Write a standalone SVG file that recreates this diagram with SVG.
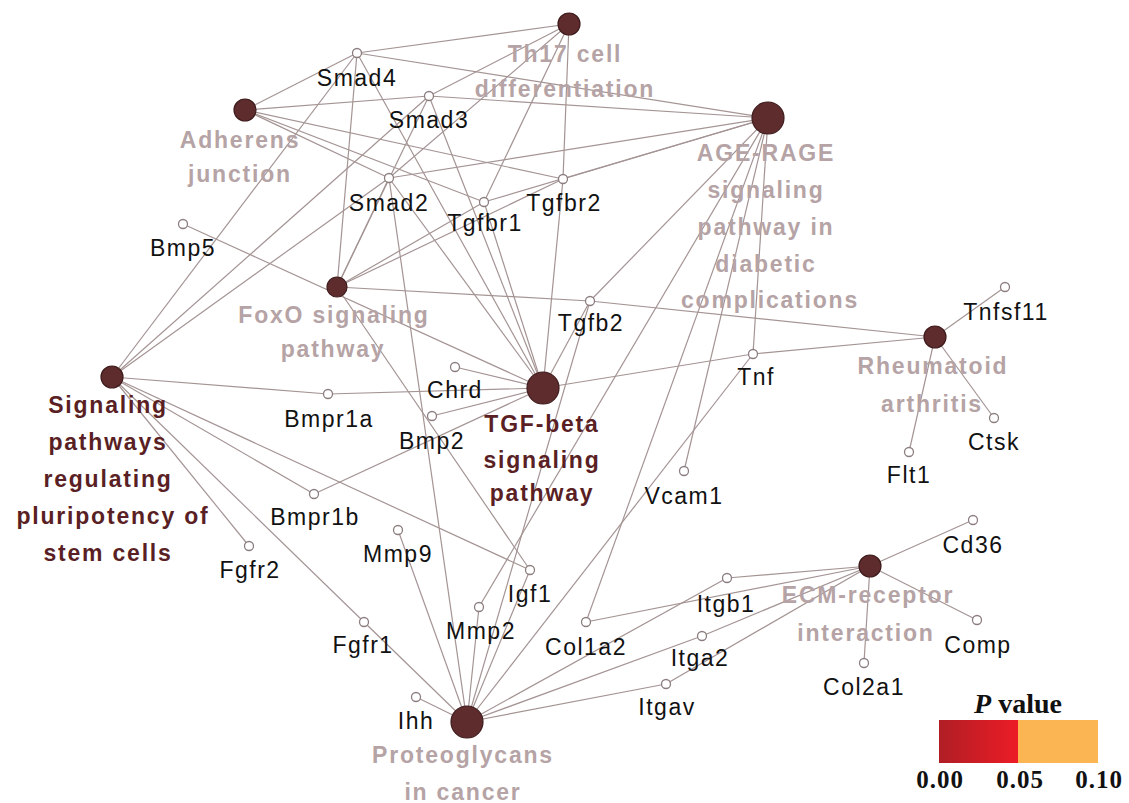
<svg xmlns="http://www.w3.org/2000/svg" width="1129" height="803" viewBox="0 0 1129 803">
<defs>
<style>
.e{stroke:#a59494;stroke-width:1.2;fill:none}
.p{fill:#5f2c2d;stroke:#3e1b1c;stroke-width:1.2}
.g{fill:#ffffff;stroke:#8c7e7e;stroke-width:1.3}
.gl{font-family:"Liberation Sans",Arial,sans-serif;font-size:23px;letter-spacing:1.5px;fill:#111;text-anchor:middle}
.pl{font-family:"Liberation Sans",Arial,sans-serif;font-size:23px;font-weight:bold;letter-spacing:1.8px;fill:#b5a3a5;text-anchor:middle}
.pd{fill:#5a1f24}
.lg{font-family:"Liberation Serif","Times New Roman",serif;font-weight:bold;fill:#111;text-anchor:middle}
</style>
<linearGradient id="red" x1="0" y1="0" x2="1" y2="0">
<stop offset="0" stop-color="#b01e25"/>
<stop offset="1" stop-color="#ec1c26"/>
</linearGradient>
</defs>
<rect width="1129" height="803" fill="#ffffff"/>
<g id="connectors">
<!-- Smad4 -->
<line class="e" x1="357" y1="53" x2="245" y2="110"/>
<line class="e" x1="357" y1="53" x2="569" y2="24"/>
<line class="e" x1="357" y1="53" x2="768" y2="118"/>
<line class="e" x1="357" y1="53" x2="112" y2="377"/>
<line class="e" x1="357" y1="53" x2="337" y2="287"/>
<line class="e" x1="357" y1="53" x2="543" y2="388"/>
<!-- Smad3 -->
<line class="e" x1="429" y1="96" x2="245" y2="110"/>
<line class="e" x1="429" y1="96" x2="569" y2="24"/>
<line class="e" x1="429" y1="96" x2="768" y2="118"/>
<line class="e" x1="429" y1="96" x2="112" y2="377"/>
<line class="e" x1="429" y1="96" x2="337" y2="287"/>
<line class="e" x1="429" y1="96" x2="543" y2="388"/>
<!-- Smad2 -->
<line class="e" x1="389" y1="178" x2="245" y2="110"/>
<line class="e" x1="389" y1="178" x2="569" y2="24"/>
<line class="e" x1="389" y1="178" x2="768" y2="118"/>
<line class="e" x1="389" y1="178" x2="112" y2="377"/>
<line class="e" x1="389" y1="178" x2="337" y2="287"/>
<line class="e" x1="389" y1="178" x2="543" y2="388"/>
<line class="e" x1="389" y1="178" x2="467" y2="722"/>
<!-- Tgfbr1 -->
<line class="e" x1="484" y1="202" x2="245" y2="110"/>
<line class="e" x1="484" y1="202" x2="569" y2="24"/>
<line class="e" x1="484" y1="202" x2="768" y2="118"/>
<line class="e" x1="484" y1="202" x2="337" y2="287"/>
<line class="e" x1="484" y1="202" x2="543" y2="388"/>
<!-- Tgfbr2 -->
<line class="e" x1="563" y1="179" x2="245" y2="110"/>
<line class="e" x1="563" y1="179" x2="569" y2="24"/>
<line class="e" x1="563" y1="179" x2="768" y2="118"/>
<line class="e" x1="563" y1="179" x2="337" y2="287"/>
<line class="e" x1="563" y1="179" x2="543" y2="388"/>
<!-- Tgfb2 -->
<line class="e" x1="590" y1="301" x2="768" y2="118"/>
<line class="e" x1="590" y1="301" x2="337" y2="287"/>
<line class="e" x1="590" y1="301" x2="543" y2="388"/>
<line class="e" x1="590" y1="301" x2="935" y2="337"/>
<line class="e" x1="590" y1="301" x2="467" y2="722"/>
<!-- TGF-beta others -->
<line class="e" x1="183" y1="224" x2="543" y2="388"/>
<line class="e" x1="455" y1="367" x2="543" y2="388"/>
<line class="e" x1="328" y1="394" x2="543" y2="388"/>
<line class="e" x1="432" y1="416" x2="543" y2="388"/>
<line class="e" x1="314" y1="494" x2="543" y2="388"/>
<!-- Signaling -->
<line class="e" x1="112" y1="377" x2="328" y2="394"/>
<line class="e" x1="112" y1="377" x2="314" y2="494"/>
<line class="e" x1="112" y1="377" x2="249" y2="546"/>
<line class="e" x1="112" y1="377" x2="364" y2="622"/>
<line class="e" x1="112" y1="377" x2="530" y2="570"/>
<!-- Tnf -->
<line class="e" x1="753" y1="354" x2="768" y2="118"/>
<line class="e" x1="753" y1="354" x2="543" y2="388"/>
<line class="e" x1="753" y1="354" x2="935" y2="337"/>
<line class="e" x1="753" y1="354" x2="467" y2="722"/>
<!-- AGE-RAGE others -->
<line class="e" x1="684" y1="471" x2="768" y2="118"/>
<line class="e" x1="479" y1="607" x2="768" y2="118"/>
<line class="e" x1="586" y1="622" x2="768" y2="118"/>
<!-- Igf1 -->
<line class="e" x1="530" y1="570" x2="337" y2="287"/>
<line class="e" x1="530" y1="570" x2="467" y2="722"/>
<!-- Proteoglycans -->
<line class="e" x1="467" y1="722" x2="364" y2="622"/>
<line class="e" x1="467" y1="722" x2="416" y2="697"/>
<line class="e" x1="467" y1="722" x2="398" y2="530"/>
<line class="e" x1="467" y1="722" x2="479" y2="607"/>
<line class="e" x1="467" y1="722" x2="727" y2="578"/>
<line class="e" x1="467" y1="722" x2="702" y2="636"/>
<line class="e" x1="467" y1="722" x2="666" y2="684"/>
<!-- ECM -->
<line class="e" x1="870" y1="566" x2="727" y2="578"/>
<line class="e" x1="870" y1="566" x2="586" y2="622"/>
<line class="e" x1="870" y1="566" x2="702" y2="636"/>
<line class="e" x1="870" y1="566" x2="666" y2="684"/>
<line class="e" x1="870" y1="566" x2="973" y2="520"/>
<line class="e" x1="870" y1="566" x2="977" y2="620"/>
<line class="e" x1="870" y1="566" x2="864" y2="663"/>
<!-- Rheumatoid -->
<line class="e" x1="935" y1="337" x2="1005" y2="287"/>
<line class="e" x1="935" y1="337" x2="994" y2="418"/>
<line class="e" x1="935" y1="337" x2="909" y2="452"/>
</g>
<g id="n-th17"><circle class="p" cx="569" cy="24" r="11"/><text class="pl" x="565" y="62">Th17 cell</text><text class="pl" x="565" y="97">differentiation</text></g>
<g id="n-adherens"><circle class="p" cx="245" cy="110" r="11"/><text class="pl" x="240" y="148">Adherens</text><text class="pl" x="240" y="182">junction</text></g>
<g id="n-agerage"><circle class="p" cx="768" cy="118" r="16"/><text class="pl" x="766" y="161">AGE-RAGE</text><text class="pl" x="766" y="198">signaling</text><text class="pl" x="766" y="235">pathway in</text><text class="pl" x="766" y="272">diabetic</text><text class="pl" x="770" y="308">complications</text></g>
<g id="n-foxo"><circle class="p" cx="337" cy="287" r="10"/><text class="pl" x="334" y="323">FoxO signaling</text><text class="pl" x="333" y="357">pathway</text></g>
<g id="n-pluripotency"><circle class="p" cx="112" cy="377" r="11"/><text class="pl pd" x="108" y="413">Signaling</text><text class="pl pd" x="108" y="450">pathways</text><text class="pl pd" x="108" y="487">regulating</text><text class="pl pd" x="113" y="524">pluripotency of</text><text class="pl pd" x="108" y="561">stem cells</text></g>
<g id="n-tgfbeta"><circle class="p" cx="543" cy="388" r="16"/><text class="pl pd" x="542" y="432">TGF-beta</text><text class="pl pd" x="542" y="468">signaling</text><text class="pl pd" x="542" y="501">pathway</text></g>
<g id="n-rheumatoid"><circle class="p" cx="935" cy="337" r="11"/><text class="pl" x="933" y="374">Rheumatoid</text><text class="pl" x="932" y="412">arthritis</text></g>
<g id="n-ecm"><circle class="p" cx="870" cy="566" r="11"/><text class="pl" x="868" y="603">ECM-receptor</text><text class="pl" x="866" y="641">interaction</text></g>
<g id="n-proteoglycans"><circle class="p" cx="467" cy="722" r="16"/><text class="pl" x="463" y="763">Proteoglycans</text><text class="pl" x="463" y="800">in cancer</text></g>
<g id="g-smad4"><circle class="g" cx="357" cy="53" r="4.5"/><text class="gl" x="357" y="86">Smad4</text></g>
<g id="g-smad3"><circle class="g" cx="429" cy="96" r="4.5"/><text class="gl" x="429" y="128">Smad3</text></g>
<g id="g-smad2"><circle class="g" cx="389" cy="178" r="4.5"/><text class="gl" x="389" y="211">Smad2</text></g>
<g id="g-tgfbr1"><circle class="g" cx="484" cy="202" r="4.5"/><text class="gl" x="485" y="231">Tgfbr1</text></g>
<g id="g-tgfbr2"><circle class="g" cx="563" cy="179" r="4.5"/><text class="gl" x="564" y="211">Tgfbr2</text></g>
<g id="g-bmp5"><circle class="g" cx="183" cy="224" r="4.5"/><text class="gl" x="183" y="256">Bmp5</text></g>
<g id="g-tgfb2"><circle class="g" cx="590" cy="301" r="4.5"/><text class="gl" x="591" y="331">Tgfb2</text></g>
<g id="g-chrd"><circle class="g" cx="455" cy="367" r="4.5"/><text class="gl" x="455" y="398">Chrd</text></g>
<g id="g-bmpr1a"><circle class="g" cx="328" cy="394" r="4.5"/><text class="gl" x="329" y="427">Bmpr1a</text></g>
<g id="g-bmp2"><circle class="g" cx="432" cy="416" r="4.5"/><text class="gl" x="432" y="449">Bmp2</text></g>
<g id="g-tnf"><circle class="g" cx="753" cy="354" r="4.5"/><text class="gl" x="756" y="385">Tnf</text></g>
<g id="g-vcam1"><circle class="g" cx="684" cy="471" r="4.5"/><text class="gl" x="684" y="504">Vcam1</text></g>
<g id="g-bmpr1b"><circle class="g" cx="314" cy="494" r="4.5"/><text class="gl" x="315" y="525">Bmpr1b</text></g>
<g id="g-fgfr2"><circle class="g" cx="249" cy="546" r="4.5"/><text class="gl" x="250" y="578">Fgfr2</text></g>
<g id="g-mmp9"><circle class="g" cx="398" cy="530" r="4.5"/><text class="gl" x="398" y="562">Mmp9</text></g>
<g id="g-igf1"><circle class="g" cx="530" cy="570" r="4.5"/><text class="gl" x="530" y="602">Igf1</text></g>
<g id="g-mmp2"><circle class="g" cx="479" cy="607" r="4.5"/><text class="gl" x="481" y="639">Mmp2</text></g>
<g id="g-fgfr1"><circle class="g" cx="364" cy="622" r="4.5"/><text class="gl" x="363" y="653">Fgfr1</text></g>
<g id="g-col1a2"><circle class="g" cx="586" cy="622" r="4.5"/><text class="gl" x="586" y="655">Col1a2</text></g>
<g id="g-itgb1"><circle class="g" cx="727" cy="578" r="4.5"/><text class="gl" x="726" y="612">Itgb1</text></g>
<g id="g-itga2"><circle class="g" cx="702" cy="636" r="4.5"/><text class="gl" x="700" y="666">Itga2</text></g>
<g id="g-itgav"><circle class="g" cx="666" cy="684" r="4.5"/><text class="gl" x="667" y="715">Itgav</text></g>
<g id="g-ihh"><circle class="g" cx="416" cy="697" r="4.5"/><text class="gl" x="416" y="729">Ihh</text></g>
<g id="g-tnfsf11"><circle class="g" cx="1005" cy="287" r="4.5"/><text class="gl" x="1006" y="320">Tnfsf11</text></g>
<g id="g-ctsk"><circle class="g" cx="994" cy="418" r="4.5"/><text class="gl" x="994" y="450">Ctsk</text></g>
<g id="g-flt1"><circle class="g" cx="909" cy="452" r="4.5"/><text class="gl" x="909" y="483">Flt1</text></g>
<g id="g-cd36"><circle class="g" cx="973" cy="520" r="4.5"/><text class="gl" x="973" y="553">Cd36</text></g>
<g id="g-comp"><circle class="g" cx="977" cy="620" r="4.5"/><text class="gl" x="978" y="653">Comp</text></g>
<g id="g-col2a1"><circle class="g" cx="864" cy="663" r="4.5"/><text class="gl" x="864" y="695">Col2a1</text></g>
<g id="legend">
<text class="lg" x="1018" y="713" font-size="28"><tspan font-style="italic">P</tspan> value</text>
<rect x="939" y="720" width="79" height="43" fill="url(#red)"/>
<rect x="1018" y="720" width="80" height="43" fill="#fbb552"/>
<text class="lg" x="940" y="788" font-size="25" letter-spacing="1">0.00</text>
<text class="lg" x="1020" y="788" font-size="25" letter-spacing="1">0.05</text>
<text class="lg" x="1099" y="788" font-size="25" letter-spacing="1">0.10</text>
</g>
</svg>
